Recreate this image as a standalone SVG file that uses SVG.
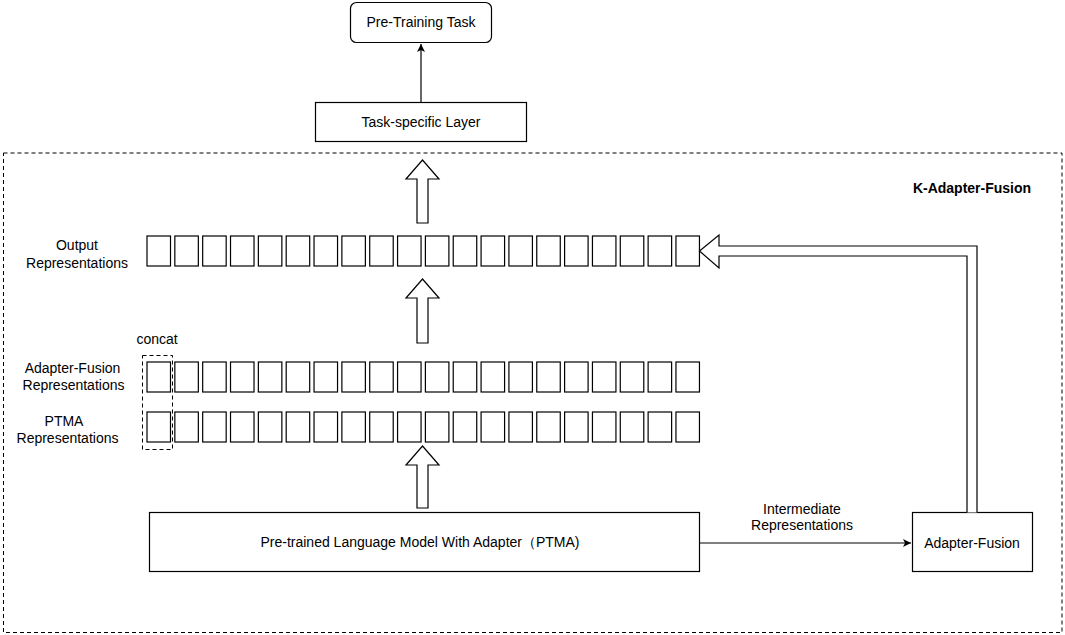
<svg xmlns="http://www.w3.org/2000/svg" width="1065" height="635" viewBox="0 0 1065 635">
<style>
.b{fill:#fff;stroke:#000;stroke-width:1.2}
.t{font-family:"Liberation Sans",Arial,sans-serif;font-size:14px;fill:#000;text-anchor:middle}
.bold{font-weight:bold}
.dash{fill:none;stroke:#000;stroke-width:1;stroke-dasharray:4 3}
.ln{fill:none;stroke:#000;stroke-width:1.2}
</style>
<defs>
<marker id="ah" markerWidth="10" markerHeight="10" refX="9" refY="5" orient="auto" markerUnits="userSpaceOnUse">
<path d="M1,1 L9,5 L1,9 L3,5 Z" fill="#000"/>
</marker>
<g id="cell"><rect width="23.5" height="30" class="b"/></g>
</defs>
<rect width="1065" height="635" fill="#fff"/>
<g id="container">
<rect x="3.5" y="153" width="1058.5" height="479.5" class="dash"/>
<text x="972" y="193" class="t bold" font-size="13.5">K-Adapter-Fusion</text>
</g>
<g id="pretraining-task">
<rect x="350.5" y="2.5" width="141" height="40" rx="6" class="b"/>
<text x="421" y="27" class="t">Pre-Training Task</text>
</g>
<g id="task-layer">
<rect x="315.5" y="102.5" width="211" height="39" class="b"/>
<text x="421" y="127" class="t">Task-specific Layer</text>
</g>
<g id="labels">
<text class="t"><tspan x="77" y="250">Output</tspan><tspan x="77" y="267.5">Representations</tspan></text>
<text class="t"><tspan x="72.5" y="373">Adapter-Fusion</tspan><tspan x="73.5" y="390">Representations</tspan></text>
<text class="t"><tspan x="64" y="426">PTMA</tspan><tspan x="67.5" y="443">Representations</tspan></text>
<text x="157" y="344" class="t">concat</text>
</g>
<g id="output-row">
<use href="#cell" x="147" y="236"/><use href="#cell" x="174.84" y="236"/><use href="#cell" x="202.68" y="236"/><use href="#cell" x="230.52" y="236"/><use href="#cell" x="258.36" y="236"/><use href="#cell" x="286.2" y="236"/><use href="#cell" x="314.04" y="236"/><use href="#cell" x="341.88" y="236"/><use href="#cell" x="369.72" y="236"/><use href="#cell" x="397.56" y="236"/><use href="#cell" x="425.4" y="236"/><use href="#cell" x="453.24" y="236"/><use href="#cell" x="481.08" y="236"/><use href="#cell" x="508.92" y="236"/><use href="#cell" x="536.76" y="236"/><use href="#cell" x="564.6" y="236"/><use href="#cell" x="592.44" y="236"/><use href="#cell" x="620.28" y="236"/><use href="#cell" x="648.12" y="236"/><use href="#cell" x="675.96" y="236"/>
</g>
<g id="adapter-fusion-row">
<use href="#cell" x="147" y="362"/><use href="#cell" x="174.84" y="362"/><use href="#cell" x="202.68" y="362"/><use href="#cell" x="230.52" y="362"/><use href="#cell" x="258.36" y="362"/><use href="#cell" x="286.2" y="362"/><use href="#cell" x="314.04" y="362"/><use href="#cell" x="341.88" y="362"/><use href="#cell" x="369.72" y="362"/><use href="#cell" x="397.56" y="362"/><use href="#cell" x="425.4" y="362"/><use href="#cell" x="453.24" y="362"/><use href="#cell" x="481.08" y="362"/><use href="#cell" x="508.92" y="362"/><use href="#cell" x="536.76" y="362"/><use href="#cell" x="564.6" y="362"/><use href="#cell" x="592.44" y="362"/><use href="#cell" x="620.28" y="362"/><use href="#cell" x="648.12" y="362"/><use href="#cell" x="675.96" y="362"/>
</g>
<g id="ptma-row">
<use href="#cell" x="147" y="412"/><use href="#cell" x="174.84" y="412"/><use href="#cell" x="202.68" y="412"/><use href="#cell" x="230.52" y="412"/><use href="#cell" x="258.36" y="412"/><use href="#cell" x="286.2" y="412"/><use href="#cell" x="314.04" y="412"/><use href="#cell" x="341.88" y="412"/><use href="#cell" x="369.72" y="412"/><use href="#cell" x="397.56" y="412"/><use href="#cell" x="425.4" y="412"/><use href="#cell" x="453.24" y="412"/><use href="#cell" x="481.08" y="412"/><use href="#cell" x="508.92" y="412"/><use href="#cell" x="536.76" y="412"/><use href="#cell" x="564.6" y="412"/><use href="#cell" x="592.44" y="412"/><use href="#cell" x="620.28" y="412"/><use href="#cell" x="648.12" y="412"/><use href="#cell" x="675.96" y="412"/>
</g>
<g id="concat-group">
<rect x="142.5" y="355.5" width="30" height="94" class="dash"/>
</g>
<g id="ptma">
<rect x="149.5" y="512.5" width="550" height="59" class="b"/>
<text x="420" y="547" class="t">Pre-trained Language Model With Adapter（PTMA)</text>
</g>
<g id="adapter-fusion">
<rect x="912.5" y="512.5" width="120" height="59" class="b"/>
<text x="972" y="548" class="t">Adapter-Fusion</text>
</g>
<g id="connectors">
<line x1="421" y1="102" x2="421" y2="44" class="ln" marker-end="url(#ah)"/>
<polygon points="422.5,160 439,179 428,179 428,223 417,223 417,179 406,179" class="b"/>
<polygon points="422.5,279 439,298 428,298 428,343 417,343 417,298 406,298" class="b"/>
<polygon points="422.5,446 439,465 428,465 428,508 417,508 417,465 406,465" class="b"/>
<polyline points="977,512.5 977,246 719,246 719,235 699.5,251 719,268 719,256 967,256 967,512.5" class="b"/>
<line x1="700" y1="543" x2="911" y2="543" class="ln" marker-end="url(#ah)"/>
<text class="t"><tspan x="802" y="514">Intermediate</tspan><tspan x="802" y="530">Representations</tspan></text>
</g>
</svg>
